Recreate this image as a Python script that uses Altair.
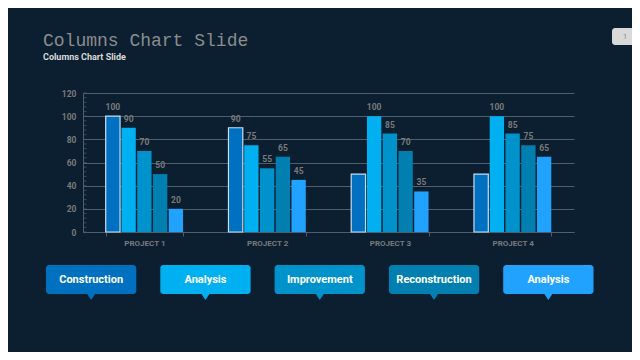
import altair as alt
import pandas as pd

# ---- data ----
projects = ["PROJECT 1", "PROJECT 2", "PROJECT 3", "PROJECT 4"]
series = ["Series 1", "Series 2", "Series 3", "Series 4", "Series 5"]
values = {
    "Series 1": [100, 90, 50, 50],
    "Series 2": [90, 75, 100, 100],
    "Series 3": [70, 55, 85, 85],
    "Series 4": [50, 65, 70, 75],
    "Series 5": [20, 45, 35, 65],
}
# labels shown in the picture ('' where no label is drawn)
labels = {
    "Series 1": ["100", "90", "", ""],
    "Series 2": ["90", "75", "100", "100"],
    "Series 3": ["70", "55", "85", "85"],
    "Series 4": ["50", "65", "70", "75"],
    "Series 5": ["20", "45", "35", "65"],
}
series_colors = ["#0070C0", "#00B0F0", "#0092CA", "#007FB0", "#22A2FF"]

box_slots = ["1", "2", "3", "4", "5"]
box_labels = ["Construction", "Analysis", "Improvement", "Reconstruction", "Analysis"]
box_colors = ["#0070C0", "#00B0F0", "#0092CA", "#007FB0", "#22A2FF"]

y_ticks = [0, 20, 40, 60, 80, 100, 120]
minor_ticks = list(range(0, 121, 4))
page_number = ["1"]

BG = "#0B1F30"
GRID = "#4E5E6E"
LABEL = "#7A7A7A"

rows = []
for s in series:
    for i, p in enumerate(projects):
        rows.append({"project": p, "series": s, "value": values[s][i], "label": labels[s][i]})
df = pd.DataFrame(rows)

boxes = pd.DataFrame({"slot": box_slots, "text": box_labels, "color": box_colors})
minor = pd.DataFrame({"value": minor_ticks})
page = pd.DataFrame({"n": page_number})

x_enc = alt.X("project:N", sort=projects, title=None,
              scale=alt.Scale(paddingInner=0.37, paddingOuter=0.185),
              axis=alt.Axis(tickBand="extent", ticks=True, tickSize=4, tickColor=GRID,
                            domain=True, domainColor=GRID, grid=False,
                            labelColor=LABEL, labelFont="Roboto", labelFontSize=8,
                            labelFontWeight="bold", labelPadding=3, labelAngle=0))
y_enc = alt.Y("value:Q", title=None,
              scale=alt.Scale(domain=[0, 120], nice=False),
              axis=alt.Axis(values=y_ticks, grid=True, gridColor=GRID, gridWidth=1,
                            domain=True, domainColor=GRID, ticks=False,
                            labelColor=LABEL, labelFont="Roboto", labelFontSize=8.5,
                            labelFontWeight="bold", labelPadding=7))
xo = alt.XOffset("series:N", sort=series, scale=alt.Scale(paddingInner=0.09))

bars = alt.Chart(df).mark_bar(stroke="#C9DDF0").encode(
    x=x_enc, xOffset=xo, y=y_enc,
    color=alt.Color("series:N", sort=series,
                    scale=alt.Scale(domain=series, range=series_colors), legend=None),
    strokeWidth=alt.condition(alt.datum.series == "Series 1", alt.value(1.2), alt.value(0)),
)

texts = alt.Chart(df).mark_text(dy=-9, font="Roboto", fontSize=8.5, fontWeight="bold",
                                color=LABEL, baseline="middle").encode(
    x=x_enc, xOffset=xo, y=y_enc, text="label:N")

minor_layer = alt.Chart(minor).mark_tick(color=GRID, thickness=1, size=3).encode(
    y=y_enc, x=alt.value(2))

main = alt.layer(bars, texts, minor_layer)

box_x = alt.X("slot:O", sort=box_slots, axis=None,
              scale=alt.Scale(range=[-37, 510.5], paddingInner=0.21, paddingOuter=0))
box_rect = alt.Chart(boxes).mark_rect(cornerRadius=3).encode(
    x=box_x, y=alt.value(172), y2=alt.value(201),
    color=alt.Color("color:N", scale=None))
box_tri = alt.Chart(boxes).mark_point(shape="M-1,-0.75L1,-0.75L0,0.75Z", filled=True,
                                      opacity=1, size=64).encode(
    x=box_x, y=alt.value(204), color=alt.Color("color:N", scale=None))
box_text = alt.Chart(boxes).mark_text(font="Roboto", fontSize=11, fontWeight="bold",
                                      color="#FFFFFF", baseline="middle").encode(
    x=box_x, y=alt.value(186.5), text="text:N")
boxes_layer = alt.layer(box_rect, box_tri, box_text)

page_rect = alt.Chart(page).mark_rect(cornerRadius=3, color="#D9D9D9").encode(
    x=alt.value(529), x2=alt.value(570), y=alt.value(-65), y2=alt.value(-48))
page_text = alt.Chart(page).mark_text(font="Roboto", fontSize=8, color="#8C8C8C",
                                      baseline="middle").encode(
    x=alt.value(542), y=alt.value(-56.5), text="n:N")

chart = alt.layer(main, boxes_layer, page_rect, page_text).resolve_scale(
    x="independent", color="independent"
).properties(
    width=491, height=139,
    background=BG,
    padding={"left": 75, "top": 85, "right": 58, "bottom": 120},
    autosize=alt.AutoSizeParams(type="none"),
    title=alt.TitleParams(
        "Columns Chart Slide",
        subtitle="Columns Chart Slide",
        anchor="start", frame="group", dx=-40, offset=-34,
        font="Liberation Mono", fontSize=18, fontWeight="normal", color="#8C8C8C",
        subtitleFont="Roboto", subtitleFontSize=9, subtitleFontWeight="bold",
        subtitleColor="#D9D9D9", subtitlePadding=3,
    ),
).configure_view(stroke=None)

chart.save("out.html", embed_options={"renderer": "svg", "actions": False})
